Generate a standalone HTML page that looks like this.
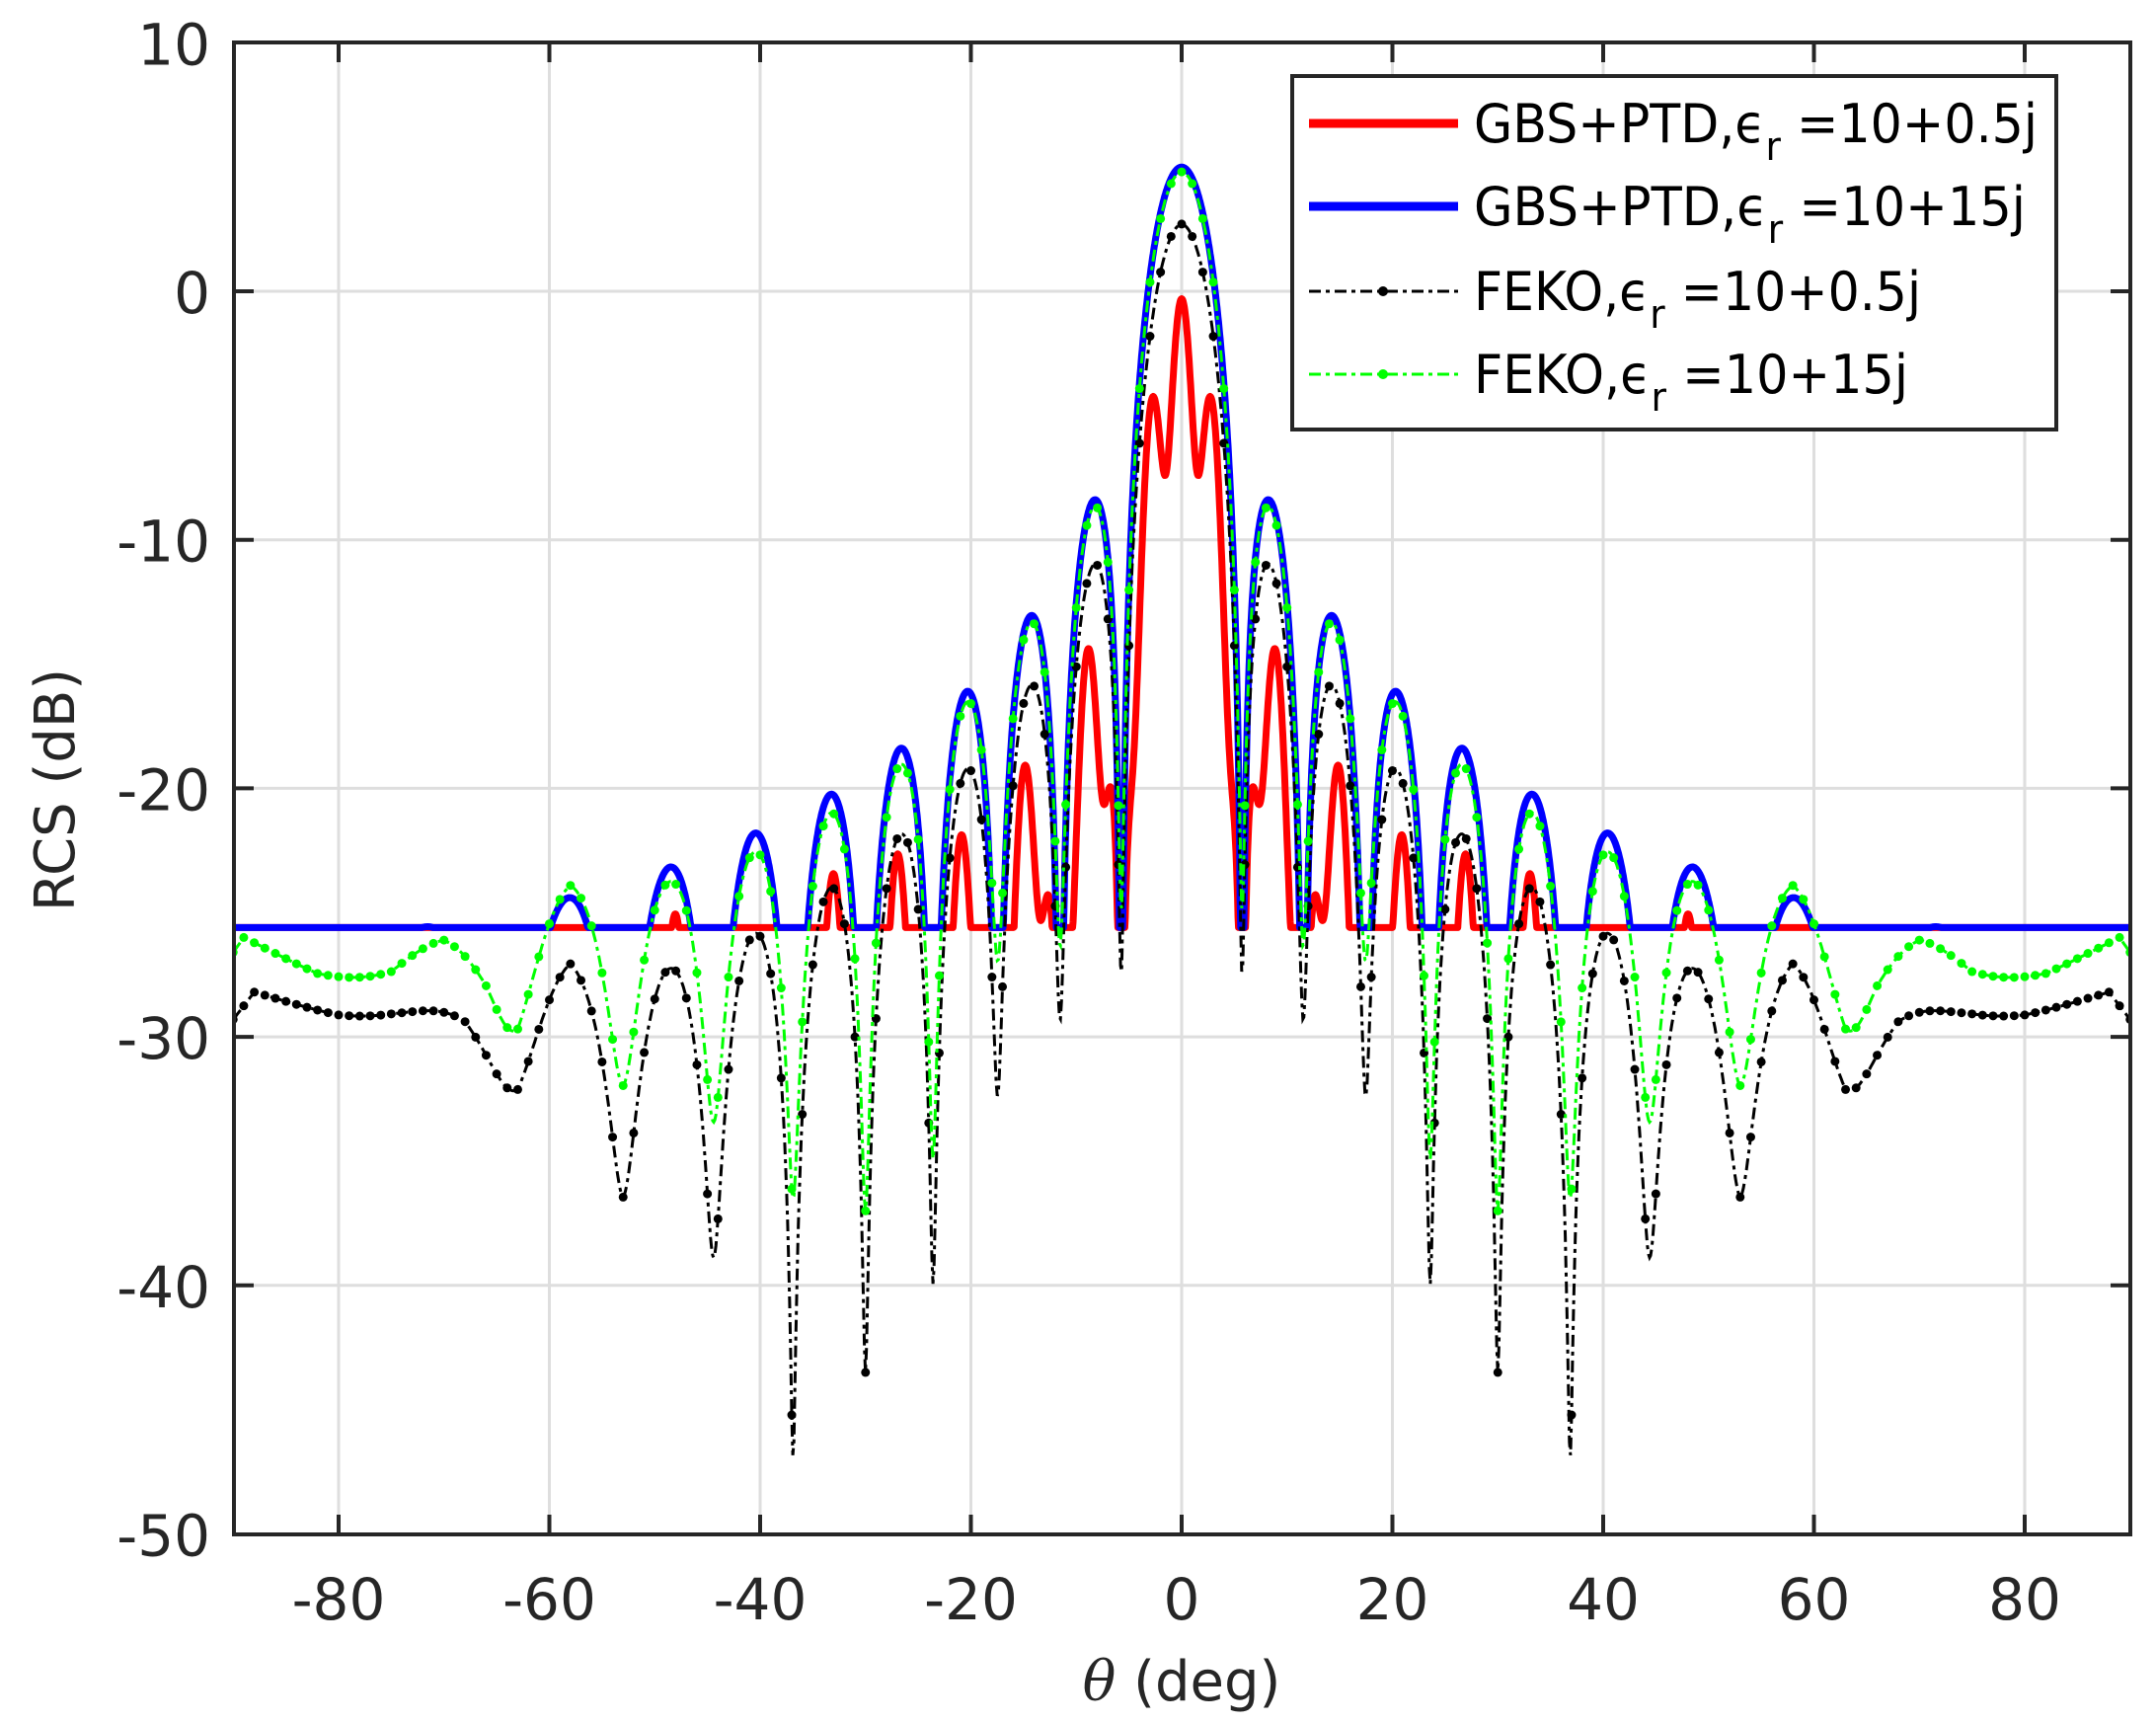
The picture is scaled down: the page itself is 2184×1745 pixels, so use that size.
<!DOCTYPE html>
<html><head><meta charset="utf-8"><style>
html,body{margin:0;padding:0;background:#fff;}
svg{display:block;}
text{font-family:"DejaVu Sans","Liberation Sans",sans-serif;fill:#262626;}
</style></head><body>
<svg id="s" width="2184" height="1745" xmlns="http://www.w3.org/2000/svg">
<defs><clipPath id="c"><rect x="237" y="43" width="1921" height="1511"/></clipPath></defs>
<g id="grid" stroke="#dedede" stroke-width="3"></g>
<g id="data" clip-path="url(#c)"></g>
<rect x="237" y="43" width="1921" height="1511" fill="none" stroke="#262626" stroke-width="4"/>
<g id="ticks" stroke="#262626" stroke-width="4"></g>
<g id="labels" font-size="58"></g>
<text x="1197" y="1722" font-size="56" text-anchor="middle"><tspan font-family="DejaVu Serif,serif" font-style="italic">θ</tspan> (deg)</text>
<text transform="translate(75,800) rotate(-90)" font-size="56" text-anchor="middle">RCS (dB)</text>
<g id="legend">
<rect x="1309" y="77" width="774" height="358" fill="#fff" stroke="#262626" stroke-width="4"/>
<line x1="1326" y1="125" x2="1477" y2="125" stroke="#ff0000" stroke-width="9"/>
<line x1="1326" y1="209" x2="1477" y2="209" stroke="#0000ff" stroke-width="9"/>
<line x1="1326" y1="295" x2="1477" y2="295" stroke="#000" stroke-width="3" stroke-dasharray="12,5,4,5"/>
<circle cx="1401" cy="295" r="5" fill="#000"/>
<line x1="1326" y1="379" x2="1477" y2="379" stroke="#00ff00" stroke-width="3" stroke-dasharray="12,5,4,5"/>
<circle cx="1401" cy="379" r="5" fill="#00ff00"/>
<g font-size="54" style="font-family:'DejaVu Sans',sans-serif">
<text x="1493" y="144" style="fill:#000" textLength="571" lengthAdjust="spacingAndGlyphs">GBS+PTD,ϵ<tspan font-size="40" dy="18">r</tspan><tspan dy="-18"> =10+0.5j</tspan></text>
<text x="1493" y="228" style="fill:#000" textLength="559" lengthAdjust="spacingAndGlyphs">GBS+PTD,ϵ<tspan font-size="40" dy="18">r</tspan><tspan dy="-18"> =10+15j</tspan></text>
<text x="1493" y="314" style="fill:#000" textLength="453" lengthAdjust="spacingAndGlyphs">FEKO,ϵ<tspan font-size="40" dy="18">r</tspan><tspan dy="-18"> =10+0.5j</tspan></text>
<text x="1493" y="398" style="fill:#000" textLength="440" lengthAdjust="spacingAndGlyphs">FEKO,ϵ<tspan font-size="40" dy="18">r</tspan><tspan dy="-18"> =10+15j</tspan></text>
</g></g>
</svg>
<script>
var NS="http://www.w3.org/2000/svg";
function X(t){return 1197+t*10.675;}
function Y(d){return 295-d*25.17;}
function el(p,n,a){var e=document.createElementNS(NS,n);for(var k in a)e.setAttribute(k,a[k]);p.appendChild(e);return e;}
var grid=document.getElementById('grid'),ticks=document.getElementById('ticks'),labels=document.getElementById('labels');
for(var t=-80;t<=80;t+=20){var x=X(t);el(grid,'line',{x1:x,y1:43,x2:x,y2:1554});
el(ticks,'line',{x1:x,y1:1554,x2:x,y2:1534});el(ticks,'line',{x1:x,y1:43,x2:x,y2:63});
var tx=el(labels,'text',{x:x,y:1640,'text-anchor':'middle'});tx.textContent=t;}
for(var d=-50;d<=10;d+=10){var y=Y(d);if(d>-50&&d<10){el(grid,'line',{x1:237,y1:y,x2:2158,y2:y});
el(ticks,'line',{x1:237,y1:y,x2:257,y2:y});el(ticks,'line',{x1:2158,y1:y,x2:2138,y2:y});}
var ty=el(labels,'text',{x:213,y:y+22,'text-anchor':'end'});ty.textContent=d;}
function S0(t){var u=10*Math.sin(Math.abs(t)*Math.PI/180);var s=u<1e-9?1:Math.sin(Math.PI*u)/(Math.PI*u);
return 20*Math.log10(Math.max(Math.abs(s),1e-8));}
function S(t){var a=Math.abs(t);return S0(t)+(a>58?-0.35*(a-58):0);}
function interp(tab,a){for(var i=0;i<tab.length-1;i++){if(a<=tab[i+1][0]){var f=(a-tab[i][0])/(tab[i+1][0]-tab[i][0]);return tab[i][1]+f*(tab[i+1][1]-tab[i][1]);}}return tab[tab.length-1][1];}
var Nb=[[0,-27],[6,-27.6],[12,-29.5],[18,-32.7],[24,-40.5],[30,-43.5],[37,-47],[44,-39],[53,-36.5],[58,-31],[63,-32.5],[68,-30.3],[75,-29.6],[80,-29.2],[88,-28.2],[90,-29.3]];
var Ng=[[0,-25],[6,-25],[12,-26.5],[18,-27],[24,-35.5],[30,-37],[37,-36.5],[44,-33.5],[53,-32],[58,-28.5],[63,-30.2],[66,-28.5],[70,-27.5],[75,-28.3],[82,-27.5],[89,-26],[90,-26.6]];
var Hr=[[0,-5.3],[20,-5.5],[30,-3.5],[45,-1.8],[90,-1.5]];
function pw(a,b){return 10*Math.log10(Math.pow(10,a/10)+Math.pow(10,b/10));}
function blue(t){return Math.max(-25.6,5+S0(t)-0.015*Math.abs(t));}
function red(t){var g=0.75+0.25*Math.cos(2*Math.PI*t/3);return Math.max(-25.6,5+S0(t)-0.015*Math.abs(t)+20*Math.log10(g)+interp(Hr,Math.abs(t)));}
function black(t){var a=Math.abs(t);return pw(2.7+S(t)-0.06*a,interp(Nb,a));}
function green(t){var a=Math.abs(t);return pw(4.8+S(t)-0.035*a,interp(Ng,a));}
var data=document.getElementById('data');
function path(f,step){var p='';for(var t=-90;t<=90.0001;t+=step){p+=(p?'L':'M')+X(t).toFixed(1)+','+Y(f(t)).toFixed(1);}return p;}
el(data,'path',{d:path(red,0.05),fill:'none',stroke:'#ff0000','stroke-width':7,'stroke-linejoin':'round'});
el(data,'path',{d:path(blue,0.05),fill:'none',stroke:'#0000ff','stroke-width':7,'stroke-linejoin':'round'});
function feko(f,col){el(data,'path',{d:path(f,0.1),fill:'none',stroke:col,'stroke-width':3,'stroke-dasharray':'12,5,4,5'});
for(var t=-90;t<=90.0001;t+=1){el(data,'circle',{cx:X(t),cy:Y(f(t)),r:4.5,fill:col});}}
feko(black,'#000');feko(green,'#00ff00');
</script>
</body></html>
